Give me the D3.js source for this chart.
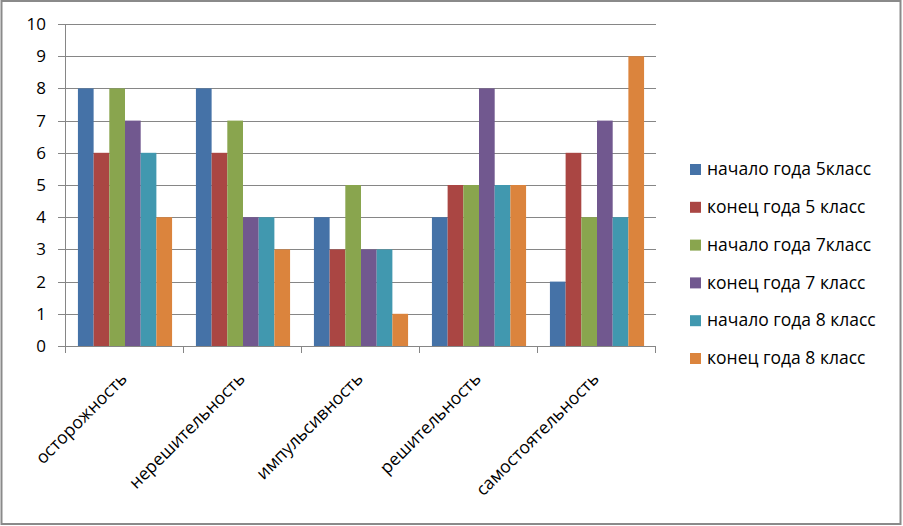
<!DOCTYPE html>
<html>
<head>
<meta charset="utf-8">
<script src="https://cdn.jsdelivr.net/npm/d3@7"></script>
<style>
  html, body { margin: 0; padding: 0; background: #fff; }
  svg { display: block; font-family: "Open Sans", "Noto Sans", sans-serif; }
</style>
</head>
<body>
<div id="chart"></div>
<script>
// traits measured in each group
const categories = ['осторожность', 'нерешительность', 'импульсивность', 'решительность', 'самостоятельность'];

const seriesNames = [
  'начало года 5класс',
  'конец года 5 класс',
  'начало года 7класс',
  'конец года 7 класс',
  'начало года 8 класс',
  'конец года 8 класс'
];

// one array per series, in category order
const start5 = [8, 8, 4, 4, 2];
const end5   = [6, 6, 3, 5, 6];
const start7 = [8, 7, 5, 5, 4];
const end7   = [7, 4, 3, 8, 7];
const start8 = [6, 4, 3, 5, 4];
const end8   = [4, 3, 1, 5, 9];

const yTicks = [0, 1, 2, 3, 4, 5, 6, 7, 8, 9, 10];

const colors = ['#4572A7', '#AA4643', '#89A54E', '#71588F', '#4198AF', '#DB843D'];

const seriesValues = [start5, end5, start7, end7, start8, end8];

const width = 903, height = 526;
const margin = { left: 66, right: 247, top: 24, bottom: 180 };

const svg = d3.select('#chart')
  .append('svg')
  .attr('width', width)
  .attr('height', height);

// outer frame
svg.append('rect')
  .attr('x', 1.5).attr('y', 1)
  .attr('width', width - 4).attr('height', height - 3)
  .attr('fill', 'none')
  .attr('stroke', '#8a8a8a')
  .attr('stroke-width', 2);

const x0 = d3.scaleBand()
  .domain(categories)
  .range([margin.left, width - margin.right])
  .padding(0);

const x1 = d3.scaleBand()
  .domain(d3.range(seriesNames.length))
  .range([0, x0.bandwidth()])
  .paddingInner(0)
  .paddingOuter(0.76);

const y = d3.scaleLinear()
  .domain([0, 10])
  .range([height - margin.bottom, margin.top]);

const gridColor = '#868686';

// gridlines
svg.append('g')
  .selectAll('line')
  .data(yTicks)
  .join('line')
  .attr('x1', margin.left - 8)
  .attr('x2', width - margin.right)
  .attr('y1', d => Math.round(y(d)) + 0.5)
  .attr('y2', d => Math.round(y(d)) + 0.5)
  .attr('stroke', gridColor)
  .attr('stroke-width', 1);

// y labels
svg.append('g')
  .selectAll('text')
  .data(yTicks)
  .join('text')
  .attr('x', 46)
  .attr('y', d => y(d))
  .attr('dy', '0.35em')
  .attr('text-anchor', 'end')
  .attr('font-size', 17)
  .attr('fill', '#000')
  .text(d => d);

// bars
const groups = svg.append('g')
  .selectAll('g')
  .data(categories)
  .join('g')
  .attr('transform', d => `translate(${x0(d)},0)`);

groups.selectAll('rect')
  .data((c, ci) => seriesValues.map((vals, si) => ({ si, v: vals[ci] })))
  .join('rect')
  .attr('x', d => x1(d.si))
  .attr('y', d => y(d.v))
  .attr('width', x1.bandwidth())
  .attr('height', d => y(0) - y(d.v))
  .attr('fill', d => colors[d.si]);

// y axis line
svg.append('line')
  .attr('x1', margin.left - 0.5).attr('x2', margin.left - 0.5)
  .attr('y1', y(10)).attr('y2', y(0) + 0.5)
  .attr('stroke', gridColor);

// category tick marks
const tickXs = categories.map(c => x0(c)).concat([x0.range()[1]]);
svg.append('g')
  .selectAll('line')
  .data(tickXs)
  .join('line')
  .attr('x1', d => Math.round(d) - 0.5)
  .attr('x2', d => Math.round(d) - 0.5)
  .attr('y1', y(0))
  .attr('y2', y(0) + 7)
  .attr('stroke', gridColor);

// category labels, rotated
svg.append('g')
  .selectAll('text')
  .data(categories)
  .join('text')
  .attr('transform', d => `translate(${x0(d) + x0.bandwidth() / 2 + 3},${y(0) + 34}) rotate(-45)`)
  .attr('text-anchor', 'end')
  .attr('font-size', 17.5)
  .attr('fill', '#000')
  .text(d => d);

// legend
const legend = svg.append('g')
  .attr('transform', 'translate(690,169)');

const rows = legend.selectAll('g')
  .data(seriesNames)
  .join('g')
  .attr('transform', (d, i) => `translate(0,${i * 37.8})`);

rows.append('rect')
  .attr('x', 0).attr('y', -5)
  .attr('width', 11).attr('height', 11)
  .attr('fill', (d, i) => colors[i]);

rows.append('text')
  .attr('x', 17)
  .attr('y', 0)
  .attr('dy', '0.35em')
  .attr('font-size', 17.5)
  .attr('fill', '#000')
  .text(d => d);
</script>
</body>
</html>
